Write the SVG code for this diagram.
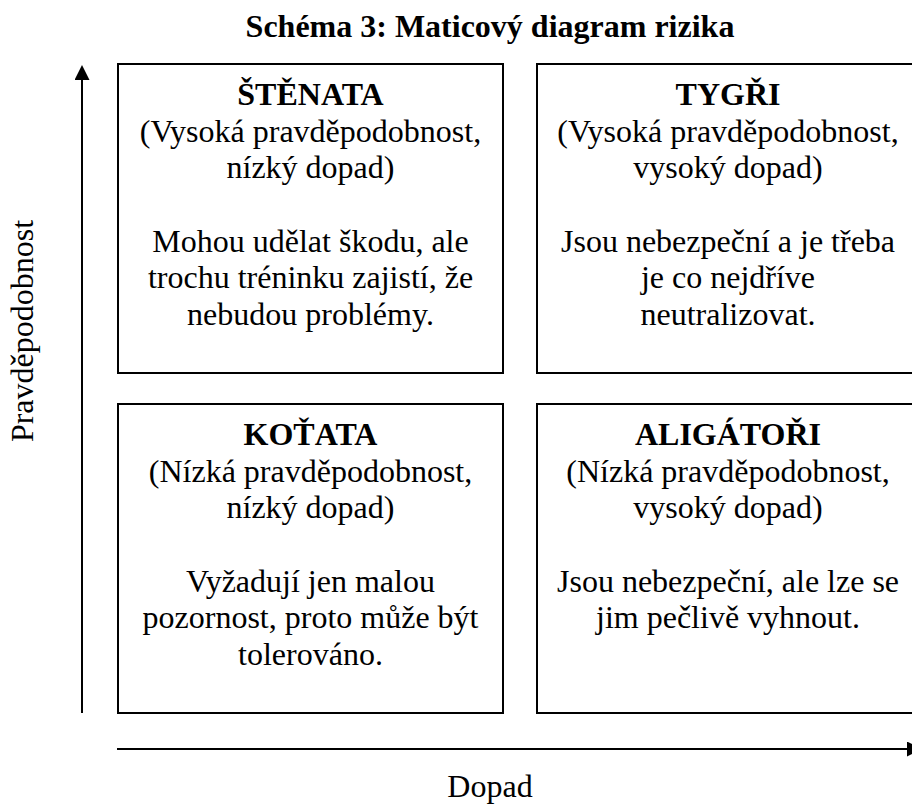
<svg xmlns="http://www.w3.org/2000/svg" width="912" height="805" viewBox="0 0 912 805" font-family="'Liberation Serif','Times New Roman',serif">
<style>
text{font-family:"Liberation Serif","Times New Roman",serif;font-size:32px;fill:#000;text-anchor:middle}
.b{font-weight:bold}
.box{fill:#fff;stroke:#000;stroke-width:2}
.ax{stroke:#000;stroke-width:2;fill:none}
</style>
<defs>
<marker id="ah" markerWidth="15" markerHeight="15" viewBox="0 0 15 15" refX="0" refY="7.5" orient="auto" markerUnits="userSpaceOnUse">
<path d="M0,0 L15,7.5 L0,15 Z" fill="#000"/>
</marker>
</defs>
<rect width="912" height="805" fill="#fff"/>
<text class="b" x="490" y="37">Schéma 3: Maticový diagram rizika</text>
<g id="axes">
<line class="ax" x1="82" y1="713" x2="82" y2="80" marker-end="url(#ah)"/>
<line class="ax" x1="117" y1="749" x2="907" y2="749" marker-end="url(#ah)"/>
<text x="0" y="0" transform="translate(33,331) rotate(-90)">Pravděpodobnost</text>
<text x="490" y="797">Dopad</text>
</g>
<g id="stenata">
<rect class="box" x="118" y="64" width="385" height="309"/>
<text x="310.5" y="105" class="b">ŠTĚNATA</text>
<text x="310.5" y="142">(Vysoká pravděpodobnost,</text>
<text x="310.5" y="178">nízký dopad)</text>
<text x="310.5" y="252">Mohou udělat škodu, ale</text>
<text x="310.5" y="288">trochu tréninku zajistí, že</text>
<text x="310.5" y="325">nebudou problémy.</text>
</g>
<g id="tygri">
<rect class="box" x="537" y="64" width="385" height="309"/>
<text x="728" y="105" class="b">TYGŘI</text>
<text x="728" y="142">(Vysoká pravděpodobnost,</text>
<text x="728" y="178">vysoký dopad)</text>
<text x="728" y="252">Jsou nebezpeční a je třeba</text>
<text x="728" y="288">je co nejdříve</text>
<text x="728" y="325">neutralizovat.</text>
</g>
<g id="kotata">
<rect class="box" x="118" y="404" width="385" height="309"/>
<text x="310.5" y="445" class="b">KOŤATA</text>
<text x="310.5" y="482">(Nízká pravděpodobnost,</text>
<text x="310.5" y="518">nízký dopad)</text>
<text x="310.5" y="592">Vyžadují jen malou</text>
<text x="310.5" y="628">pozornost, proto může být</text>
<text x="310.5" y="665">tolerováno.</text>
</g>
<g id="aligatori">
<rect class="box" x="537" y="404" width="385" height="309"/>
<text x="728" y="445" class="b">ALIGÁTOŘI</text>
<text x="728" y="482">(Nízká pravděpodobnost,</text>
<text x="728" y="518">vysoký dopad)</text>
<text x="728" y="592">Jsou nebezpeční, ale lze se</text>
<text x="728" y="628">jim pečlivě vyhnout.</text>
</g>
</svg>
